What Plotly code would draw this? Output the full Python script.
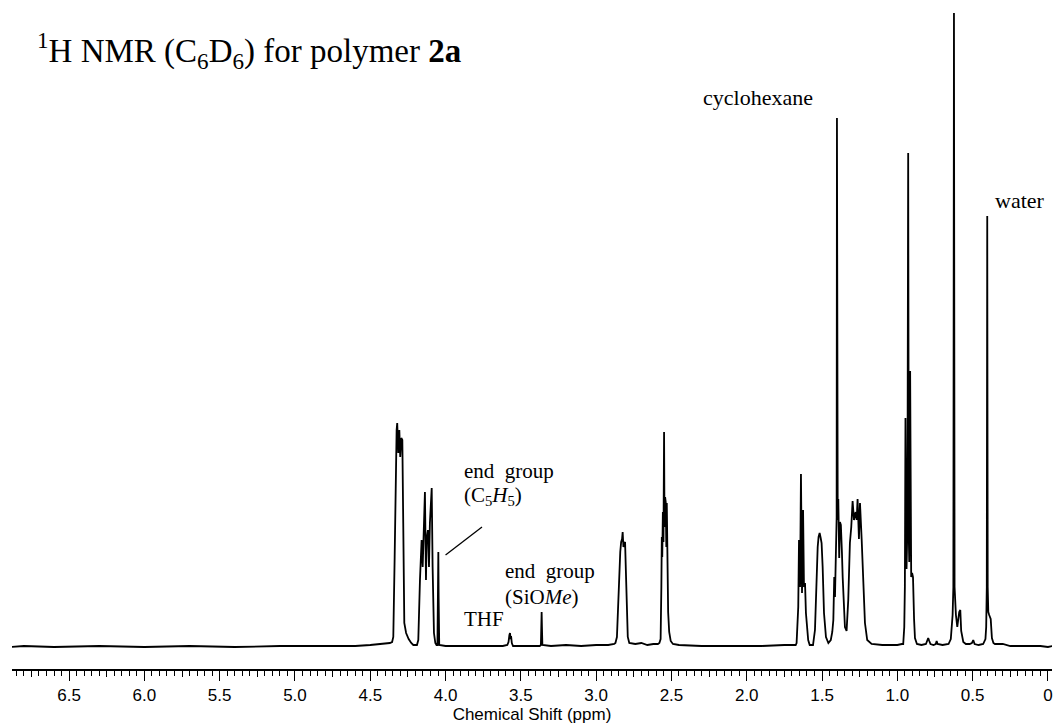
import plotly.graph_objects as go

# ---- spectrum trace (ppm, intensity in px above baseline) ----
base_a_x = [6.90, 6.80, 6.60, 6.30, 6.00, 5.70, 5.40, 5.10, 4.80, 4.60, 4.50, 4.44, 4.40, 4.37, 4.355]
base_a_y = [0, 1, 0, 1, 0, 1, 0, 1, 1, 1, 2, 3, 3, 4, 5]
pk_432_x = [4.347, 4.338, 4.329, 4.325, 4.321, 4.314, 4.307, 4.301, 4.294, 4.287, 4.281, 4.274, 4.262, 4.245, 4.228, 4.214]
pk_432_y = [10, 90, 190, 217, 224, 194, 217, 190, 209, 207, 124, 24, 14, 8, 4, 2]
pk_412_x = [4.190, 4.181, 4.170, 4.159, 4.152, 4.143, 4.137, 4.130, 4.126, 4.117, 4.110, 4.104, 4.092, 4.086, 4.077, 4.068, 4.060]
pk_412_y = [2, 7, 67, 107, 80, 134, 155, 67, 107, 117, 80, 124, 159, 80, 14, 4, 2]
pk_405_x = [4.054, 4.050, 4.048, 4.046, 4.042]
pk_405_y = [2, 50, 95, 50, 2]
base_b_x = [4.00, 3.90, 3.80, 3.70, 3.62, 3.59]
base_b_y = [1, 1, 1, 1, 1, 2]
pk_thf_x = [3.582, 3.576, 3.572, 3.568, 3.565, 3.560, 3.552]
pk_thf_y = [5, 12, 14, 8, 11, 4, 1]
base_c_x = [3.50, 3.42, 3.375]
base_c_y = [1, 1, 1]
pk_ome_x = [3.367, 3.364, 3.362, 3.360, 3.357]
pk_ome_y = [2, 20, 35, 20, 2]
base_d_x = [3.30, 3.20, 3.10, 3.00, 2.92, 2.88]
base_d_y = [1, 2, 1, 2, 2, 3]
pk_282_x = [2.872, 2.862, 2.852, 2.846, 2.840, 2.834, 2.828, 2.824, 2.819, 2.814, 2.808, 2.803, 2.798, 2.790, 2.780]
pk_282_y = [4, 10, 50, 88, 95, 105, 108, 115, 100, 104, 105, 78, 40, 10, 4]
base_e_x = [2.74, 2.70, 2.66, 2.62, 2.59]
base_e_y = [3, 4, 2, 3, 3]
pk_255_x = [2.580, 2.572, 2.567, 2.564, 2.561, 2.557, 2.553, 2.549, 2.546, 2.542, 2.538, 2.534, 2.531, 2.527, 2.522, 2.515, 2.505, 2.49]
pk_255_y = [4, 8, 60, 110, 90, 135, 105, 215, 120, 150, 145, 100, 144, 70, 35, 15, 6, 3]
base_f_x = [2.45, 2.30, 2.10, 1.90, 1.75, 1.69]
base_f_y = [2, 1, 1, 1, 2, 2]
pk_163_x = [1.675, 1.669, 1.658, 1.653, 1.646, 1.640, 1.633, 1.626, 1.620, 1.613, 1.607, 1.592, 1.582, 1.570]
pk_163_y = [2, 4, 40, 107, 60, 173, 54, 137, 60, 64, 34, 7, 2, 2]
pk_152_x = [1.560, 1.547, 1.536, 1.529, 1.523, 1.516, 1.509, 1.503, 1.496, 1.487, 1.474, 1.458]
pk_152_y = [2, 17, 80, 100, 110, 114, 109, 104, 80, 34, 10, 4]
pk_140_x = [1.442, 1.432, 1.425, 1.419, 1.414, 1.406, 1.403, 1.401, 1.399, 1.396, 1.392, 1.389, 1.386, 1.381, 1.375, 1.368, 1.363, 1.348, 1.337]
pk_140_y = [7, 15, 27, 70, 50, 100, 130, 529, 140, 127, 148, 120, 89, 125, 122, 95, 70, 20, 16]
pk_129_x = [1.326, 1.315, 1.306, 1.297, 1.288, 1.277, 1.270, 1.264, 1.255, 1.248, 1.237, 1.226, 1.215, 1.200, 1.171]
pk_129_y = [47, 104, 120, 146, 127, 135, 127, 148, 108, 144, 108, 70, 24, 7, 3]
base_g_x = [1.10, 1.00, 0.97]
base_g_y = [2, 2, 3]
pk_092_x = [0.961, 0.954, 0.950, 0.946, 0.942, 0.939, 0.933, 0.928, 0.924, 0.921, 0.915, 0.911, 0.908, 0.902, 0.896, 0.889, 0.883, 0.870]
pk_092_y = [3, 20, 60, 229, 90, 78, 120, 494, 110, 85, 276, 120, 70, 74, 70, 28, 9, 3]
base_h_x = [0.84, 0.81, 0.800, 0.795, 0.788, 0.780, 0.76, 0.745, 0.739, 0.733, 0.70, 0.66, 0.645]
base_h_y = [2, 3, 8, 9, 6, 3, 2, 3, 6, 3, 2, 3, 8]
pk_062_x = [0.640, 0.633, 0.628, 0.624, 0.620, 0.611, 0.602, 0.592, 0.589, 0.582, 0.576, 0.562, 0.545]
pk_062_y = [16, 32, 60, 634, 60, 32, 20, 30, 35, 37, 16, 5, 3]
base_i_x = [0.52, 0.505, 0.496, 0.487, 0.46, 0.43, 0.415]
base_i_y = [3, 4, 7, 3, 2, 3, 8]
pk_040_x = [0.410, 0.406, 0.403, 0.400, 0.396, 0.390, 0.384, 0.380, 0.372, 0.362, 0.352]
pk_040_y = [20, 60, 431, 60, 35, 32, 30, 28, 9, 4, 3]
base_j_x = [0.30, 0.25, 0.15, 0.05, 0.00, -0.03]
base_j_y = [3, 1, 1, 1, 0, 1]

segments_x = [base_a_x, pk_432_x, pk_412_x, pk_405_x, base_b_x, pk_thf_x, base_c_x, pk_ome_x,
              base_d_x, pk_282_x, base_e_x, pk_255_x, base_f_x, pk_163_x, pk_152_x, pk_140_x,
              pk_129_x, base_g_x, pk_092_x, base_h_x, pk_062_x, base_i_x, pk_040_x, base_j_x]
segments_y = [base_a_y, pk_432_y, pk_412_y, pk_405_y, base_b_y, pk_thf_y, base_c_y, pk_ome_y,
              base_d_y, pk_282_y, base_e_y, pk_255_y, base_f_y, pk_163_y, pk_152_y, pk_140_y,
              pk_129_y, base_g_y, pk_092_y, base_h_y, pk_062_y, base_i_y, pk_040_y, base_j_y]

# ---- axis ticks ----
major_ticks = [6.5, 6.0, 5.5, 5.0, 4.5, 4.0, 3.5, 3.0, 2.5, 2.0, 1.5, 1.0, 0.5, 0.0]
major_labels = ["6.5", "6.0", "5.5", "5.0", "4.5", "4.0", "3.5", "3.0", "2.5", "2.0", "1.5", "1.0", "0.5", "0"]
mid_ticks = [6.75, 6.25, 5.75, 5.25, 4.75, 4.25, 3.75, 3.25, 2.75, 2.25, 1.75, 1.25, 0.75, 0.25]

shift = [v for seg in segments_x for v in seg]
inten = [v for seg in segments_y for v in seg]

fig = go.Figure()
fig.add_trace(go.Scatter(x=shift, y=inten, mode="lines",
                         line=dict(color="black", width=1.8), showlegend=False, hoverinfo="skip"))
fig.add_trace(go.Scatter(x=[], y=[], xaxis="x2", yaxis="y", showlegend=False))

serif = "Liberation Serif, Times New Roman, serif"
sans = "Liberation Sans, Arial, sans-serif"
XR = [6.879, -0.027]

fig.update_layout(
    width=1057, height=726,
    margin=dict(l=12, r=5, t=0, b=57),
    paper_bgcolor="white", plot_bgcolor="white",
    xaxis=dict(range=XR, showgrid=False, zeroline=False,
               showline=True, linecolor="black", linewidth=1.5,
               ticks="outside", ticklen=10, tickwidth=1.3, tickcolor="black",
               tickmode="array", tickvals=major_ticks, ticktext=major_labels,
               tickfont=dict(family=sans, size=17, color="black"),
               minor=dict(dtick=0.05, tick0=0, ticks="outside", ticklen=5, tickwidth=1, tickcolor="black"),
               title=dict(text="Chemical Shift (ppm)", font=dict(family=sans, size=17, color="black"), standoff=2)),
    xaxis2=dict(range=XR, overlaying="x", anchor="y", side="bottom", matches="x",
                showgrid=False, zeroline=False, showline=False, showticklabels=False,
                ticks="outside", ticklen=7, tickwidth=1, tickcolor="black",
                tickmode="array", tickvals=mid_ticks),
    yaxis=dict(range=[-22, 647], visible=False),
)

def label(text, x, y, size=21, xanchor="left"):
    fig.add_annotation(text=text, x=x, y=y, xref="x", yref="y", showarrow=False,
                       xanchor=xanchor, yanchor="middle",
                       font=dict(family=serif, size=size, color="black"))

label("<sup>1</sup>H NMR (C<sub>6</sub>D<sub>6</sub>) for polymer <b>2a</b>", 6.727, 597, size=33)
label("cyclohexane", 1.547, 550, size=22, xanchor="right")
label("water", 0.365, 447, size=22)
label("end\u00a0 group", 3.891, 176)
label("(C<sub>5</sub><i>H</i><sub>5</sub>)", 3.891, 151)
label("end\u00a0 group", 3.619, 76)
label("(SiO<i>Me</i>)", 3.619, 50)
label("THF", 3.891, 28)

fig.add_shape(type="line", xref="x", yref="y", x0=4.0, y0=92, x1=3.758, y1=120,
              line=dict(color="black", width=1.3))

fig.write_html("out.html", config={"displayModeBar": False},
               post_script="document.body.style.margin='0';document.body.style.overflow='hidden';")
